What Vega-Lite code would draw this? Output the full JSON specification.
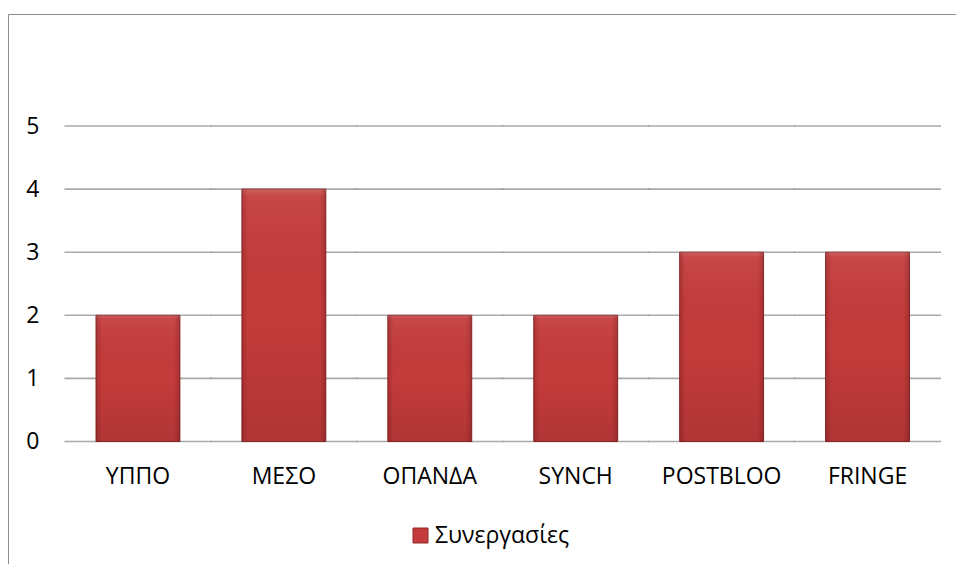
{
  "$schema": "https://vega.github.io/schema/vega-lite/v6.json",
  "width": 950,
  "height": 552,
  "autosize": {"type": "none"},
  "padding": {"left": 8, "top": 14, "right": -2, "bottom": -2},
  "background": "white",
  "config": {
    "view": {"stroke": "#8c8c8c", "strokeWidth": 1},
    "font": "Open Sans",
    "axisY": {"domain": false, "ticks": false, "grid": false, "labelFontSize": 23, "labelColor": "#000000", "labelPadding": 26, "offset": -57, "title": null, "format": "d"},
    "axisX": {"domain": false, "ticks": false, "grid": false, "labelAngle": 0, "labelFontSize": 23, "labelColor": "#000000", "labelPadding": 42, "labelBaseline": "alphabetic", "offset": -124.5, "title": null},
    "legend": {"padding": 0}
  },
  "data": {
    "values": [
      {"category": "ΥΠΠΟ", "value": 2, "series": "Συνεργασίες"},
      {"category": "ΜΕΣΟ", "value": 4, "series": "Συνεργασίες"},
      {"category": "ΟΠΑΝΔΑ", "value": 2, "series": "Συνεργασίες"},
      {"category": "SYNCH", "value": 2, "series": "Συνεργασίες"},
      {"category": "POSTBLOO", "value": 3, "series": "Συνεργασίες"},
      {"category": "FRINGE", "value": 3, "series": "Συνεργασίες"}
    ]
  },
  "encoding": {
    "x": {
      "field": "category",
      "type": "nominal",
      "sort": null,
      "scale": {"type": "band", "paddingInner": 0, "paddingOuter": 0.2553, "align": 0.765},
      "axis": {"title": null}
    }
  },
  "layer": [
    {"mark": {"type": "tick", "color": "#868686", "thickness": 1.6, "size": 147}, "encoding": {"y": {"datum": 0, "type": "quantitative", "scale": {"domain": [-1.973, 6.775], "nice": false}, "axis": {"values": [0, 1, 2, 3, 4, 5], "title": null, "format": "d"}}}},
    {"mark": {"type": "tick", "color": "#868686", "thickness": 1.6, "size": 147}, "encoding": {"y": {"datum": 1, "type": "quantitative"}}},
    {"mark": {"type": "tick", "color": "#868686", "thickness": 1.6, "size": 147}, "encoding": {"y": {"datum": 2, "type": "quantitative"}}},
    {"mark": {"type": "tick", "color": "#868686", "thickness": 1.6, "size": 147}, "encoding": {"y": {"datum": 3, "type": "quantitative"}}},
    {"mark": {"type": "tick", "color": "#868686", "thickness": 1.6, "size": 147}, "encoding": {"y": {"datum": 4, "type": "quantitative"}}},
    {"mark": {"type": "tick", "color": "#868686", "thickness": 1.6, "size": 147}, "encoding": {"y": {"datum": 5, "type": "quantitative"}}},
    {
      "mark": {"type": "bar", "width": {"band": 0.575}, "stroke": "#8e2828", "strokeWidth": 1},
      "encoding": {
        "y": {"field": "value", "type": "quantitative"},
        "color": {
          "field": "series",
          "type": "nominal",
          "scale": {"range": ["#c43b3b"]},
          "legend": {"title": null, "orient": "none", "legendX": 401, "legendY": 510, "symbolType": "square", "symbolSize": 225, "symbolStrokeWidth": 1, "symbolStrokeColor": "#8e2828", "labelFontSize": 23, "labelColor": "#000000", "labelOffset": 3}
        }
      }
    },
    {
      "mark": {
        "type": "bar",
        "width": {"band": 0.575},
        "fill": {"gradient": "linear", "x1": 0, "y1": 0, "x2": 0, "y2": 1, "stops": [
          {"offset": 0, "color": "rgba(255,255,255,0.18)"},
          {"offset": 0.03, "color": "rgba(255,255,255,0.06)"},
          {"offset": 0.5, "color": "rgba(0,0,0,0.0)"},
          {"offset": 1, "color": "rgba(0,0,0,0.10)"}
        ]}
      },
      "encoding": {"y": {"field": "value", "type": "quantitative"}}
    },
    {
      "mark": {
        "type": "bar",
        "width": {"band": 0.575},
        "fill": {"gradient": "linear", "x1": 0, "y1": 0, "x2": 1, "y2": 0, "stops": [
          {"offset": 0, "color": "rgba(60,0,0,0.20)"},
          {"offset": 0.07, "color": "rgba(60,0,0,0.0)"},
          {"offset": 0.93, "color": "rgba(60,0,0,0.0)"},
          {"offset": 1, "color": "rgba(60,0,0,0.22)"}
        ]}
      },
      "encoding": {"y": {"field": "value", "type": "quantitative"}}
    }
  ]
}
